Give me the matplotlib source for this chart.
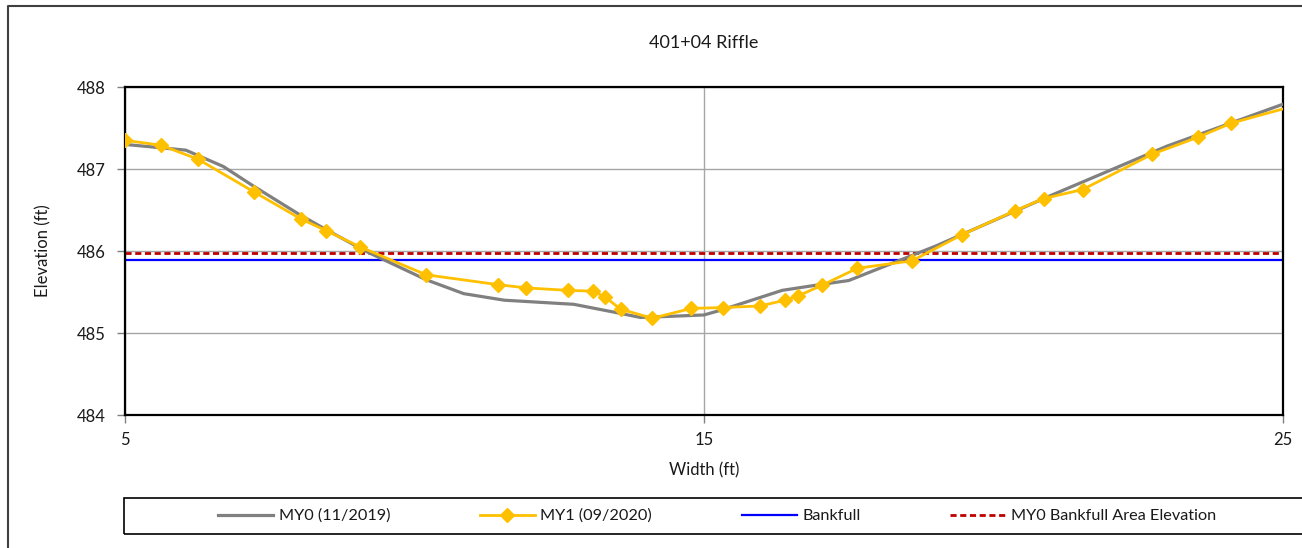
import matplotlib
matplotlib.use("Agg")
import matplotlib.pyplot as plt
from matplotlib.lines import Line2D
from matplotlib.patches import Rectangle

# ---- data ----
title = "401+04 Riffle"
x_label = "Width (ft)"
y_label = "Elevation (ft)"

my0_x = [5.0, 6.05, 6.7, 7.2, 8.0, 8.45, 9.15, 10.2, 10.85, 11.55, 12.75, 13.55,
         13.9, 14.3, 15.0, 15.3, 16.35, 17.0, 17.5, 19.0, 21.0, 23.0, 25.0]
my0_y = [487.30, 487.23, 487.03, 486.80, 486.45, 486.27, 486.00, 485.65, 485.48,
         485.40, 485.35, 485.24, 485.19, 485.20, 485.22, 485.28, 485.52, 485.59,
         485.64, 486.06, 486.68, 487.28, 487.79]

my1_x = [5.0, 5.62, 6.26, 7.23, 8.04, 8.47, 9.06, 10.2, 11.44, 11.93, 12.65, 13.08,
         13.29, 13.56, 14.11, 14.78, 15.32, 15.97, 16.40, 16.62, 17.03, 17.65, 18.59,
         19.46, 20.37, 20.87, 21.54, 22.74, 23.54, 24.11, 25.5]
my1_y = [487.35, 487.29, 487.12, 486.72, 486.39, 486.25, 486.05, 485.71, 485.59,
         485.55, 485.52, 485.51, 485.44, 485.29, 485.18, 485.30, 485.31, 485.33,
         485.40, 485.45, 485.58, 485.79, 485.88, 486.20, 486.49, 486.64, 486.75,
         487.18, 487.39, 487.56, 487.83]

bankfull = 485.89
my0_bankfull_area = 485.98

x_ticks = [5, 15, 25]
y_ticks = [484, 485, 486, 487, 488]
series_labels = ["MY0 (11/2019)", "MY1 (09/2020)", "Bankfull", "MY0 Bankfull Area Elevation"]

# ---- figure ----
plt.rcParams['font.family'] = ['Lato', 'DejaVu Sans']
W, H = 1302, 548
fig = plt.figure(figsize=(W / 100, H / 100), dpi=100)
ax = fig.add_axes([125 / W, 1 - 415 / H, (1283 - 125) / W, (415 - 87) / H])

ax.plot(my0_x, my0_y, color="#808080", lw=2.3, label=series_labels[0], zorder=3)
ax.plot(my1_x, my1_y, color="#FFC000", lw=2.0, marker="D", markersize=6.8,
        label=series_labels[1], zorder=4)
ax.axhline(bankfull, color="#0000FF", lw=1.6, label=series_labels[2], zorder=2)
ax.axhline(my0_bankfull_area, color="#C00000", lw=2.0, ls=(0, (2.2, 1.3)),
           label=series_labels[3], zorder=2)

ax.set_xlim(5, 25)
ax.set_ylim(484, 488)
ax.set_xticks(x_ticks)
ax.set_yticks(y_ticks)
ax.grid(True, color="#A6A6A6", lw=1.0, zorder=0)
ax.set_axisbelow(True)
for s in ax.spines.values():
    s.set_color("black")
    s.set_linewidth(1.6)
ax.tick_params(axis="both", direction="out", length=6, width=1, color="#808080",
               labelsize=12, labelcolor="#1a1a1a", pad=8)
ax.tick_params(axis="x", pad=6)

fig.text(704 / W, 1 - 43 / H, title, ha="center", va="center", fontsize=13, color="#1a1a1a")
fig.text(704 / W, 1 - 470 / H, x_label, ha="center", va="center", fontsize=12, color="#1a1a1a")
fig.text(43 / W, 1 - 251 / H, y_label, ha="center", va="center", rotation=90,
         fontsize=12, color="#1a1a1a")

# legend frame (extends beyond the right edge like the reference)
fig.add_artist(Rectangle((124 / W, 1 - 534 / H), (1320 - 124) / W, (534 - 498) / H,
                         transform=fig.transFigure, fill=False, edgecolor="black", lw=1.2))
handles, labels = ax.get_legend_handles_labels()
fig.legend(handles, labels, loc="center", bbox_to_anchor=(717 / W, 1 - 516 / H),
           ncol=4, frameon=False, fontsize=11.7, handlelength=3.4, handletextpad=0.35,
           columnspacing=5.5, labelcolor="#1a1a1a")

# outer chart border (partially visible)
fig.add_artist(Line2D([8 / W, 8 / W, 1.01], [-0.01, 1 - 6 / H, 1 - 6 / H],
                      transform=fig.transFigure, color="#404040", lw=1.5))

fig.savefig("out.png", dpi=100)
